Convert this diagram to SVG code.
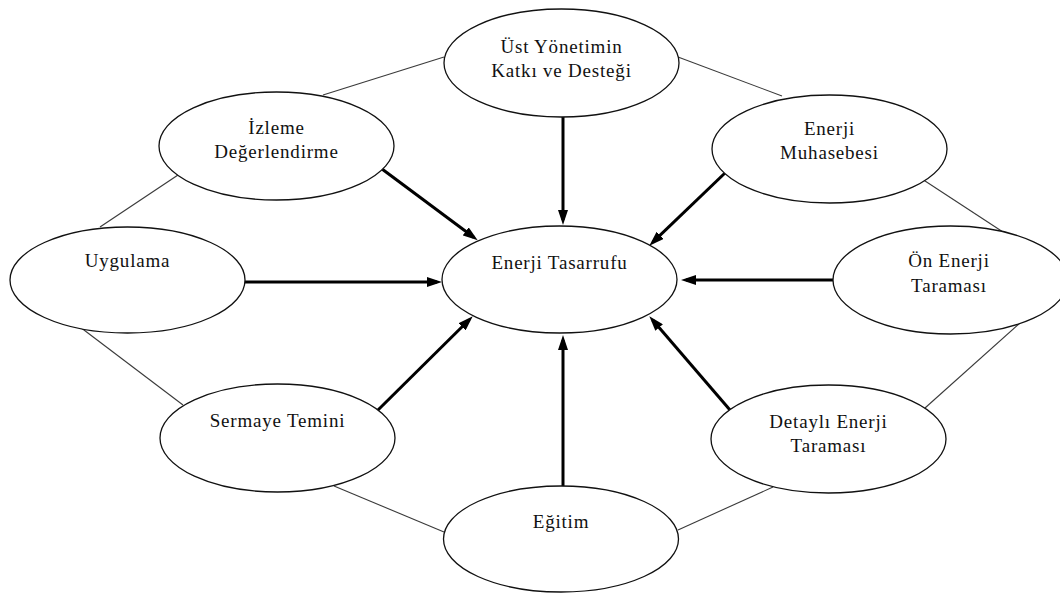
<svg xmlns="http://www.w3.org/2000/svg" width="1060" height="593" viewBox="0 0 1060 593">
  <defs>
    <marker id="head" markerUnits="userSpaceOnUse" markerWidth="15" markerHeight="10" viewBox="0 0 15 10" refX="10" refY="5" orient="auto">
      <path d="M0,0 L15,5 L0,10 z" fill="#000"/>
    </marker>
  </defs>
  <style>
    .ring { stroke: #3a3a3a; stroke-width: 1.1; fill: none; }
    .flow { stroke: #000; stroke-width: 3; fill: none; marker-end: url(#head); }
    .node ellipse { fill: #fff; stroke: #111; stroke-width: 1.3; }
    .node text { font-family: "Liberation Serif", "Times New Roman", serif; font-size: 19px; letter-spacing: 0.8px; fill: #111; text-anchor: middle; }
  </style>
  <rect width="1060" height="593" fill="#fff"/>

  <!-- connectors: outer ring and arrows into the centre -->
  <g id="connectors">
    <line class="ring" x1="444" y1="57" x2="323" y2="95"/>
    <line class="ring" x1="678" y1="57" x2="782" y2="96"/>
    <line class="ring" x1="178" y1="175" x2="100" y2="227"/>
    <line class="ring" x1="80" y1="327" x2="183" y2="405"/>
    <line class="ring" x1="334" y1="486" x2="444" y2="532"/>
    <line class="ring" x1="678" y1="530" x2="773" y2="487"/>
    <line class="ring" x1="925" y1="408" x2="1020" y2="323"/>
    <line class="ring" x1="922" y1="179" x2="1003" y2="232"/>

    <line class="flow" x1="563" y1="117" x2="563" y2="220"/>
    <line class="flow" x1="382" y1="169" x2="473.7" y2="237.3"/>
    <line class="flow" x1="725" y1="173" x2="652.9" y2="242.2"/>
    <line class="flow" x1="245" y1="282" x2="437" y2="282"/>
    <line class="flow" x1="833" y1="280" x2="686" y2="280"/>
    <line class="flow" x1="378" y1="410" x2="469.2" y2="319.8"/>
    <line class="flow" x1="730" y1="410" x2="652.6" y2="320"/>
    <line class="flow" x1="563" y1="486" x2="563" y2="340"/>
  </g>

  <g id="ust-yonetim" class="node">
    <ellipse cx="561.5" cy="63" rx="117.5" ry="54"/>
    <text x="561.5" y="53">Üst Yönetimin</text>
    <text x="561.5" y="77">Katkı ve Desteği</text>
  </g>
  <g id="izleme" class="node">
    <ellipse cx="276.5" cy="146" rx="117.5" ry="54"/>
    <text x="276.5" y="134">İzleme</text>
    <text x="276.5" y="158">Değerlendirme</text>
  </g>
  <g id="muhasebe" class="node">
    <ellipse cx="829.5" cy="149" rx="117.5" ry="54"/>
    <text x="829.5" y="135">Enerji</text>
    <text x="829.5" y="159">Muhasebesi</text>
  </g>
  <g id="uygulama" class="node">
    <ellipse cx="127.5" cy="280" rx="117.5" ry="53"/>
    <text x="127.5" y="267">Uygulama</text>
  </g>
  <g id="tasarruf" class="node">
    <ellipse cx="559.5" cy="279.5" rx="117.5" ry="53.5"/>
    <text x="559.5" y="269">Enerji Tasarrufu</text>
  </g>
  <g id="on-tarama" class="node">
    <ellipse cx="950.5" cy="280" rx="117.5" ry="54"/>
    <text x="949" y="267">Ön Enerji</text>
    <text x="949" y="292">Taraması</text>
  </g>
  <g id="sermaye" class="node">
    <ellipse cx="277.5" cy="438" rx="117.5" ry="54"/>
    <text x="277.5" y="427">Sermaye Temini</text>
  </g>
  <g id="detayli-tarama" class="node">
    <ellipse cx="828.5" cy="439" rx="117.5" ry="54"/>
    <text x="828.5" y="428">Detaylı Enerji</text>
    <text x="828.5" y="452">Taraması</text>
  </g>
  <g id="egitim" class="node">
    <ellipse cx="561" cy="539" rx="117.5" ry="53"/>
    <text x="561" y="528">Eğitim</text>
  </g>
</svg>
